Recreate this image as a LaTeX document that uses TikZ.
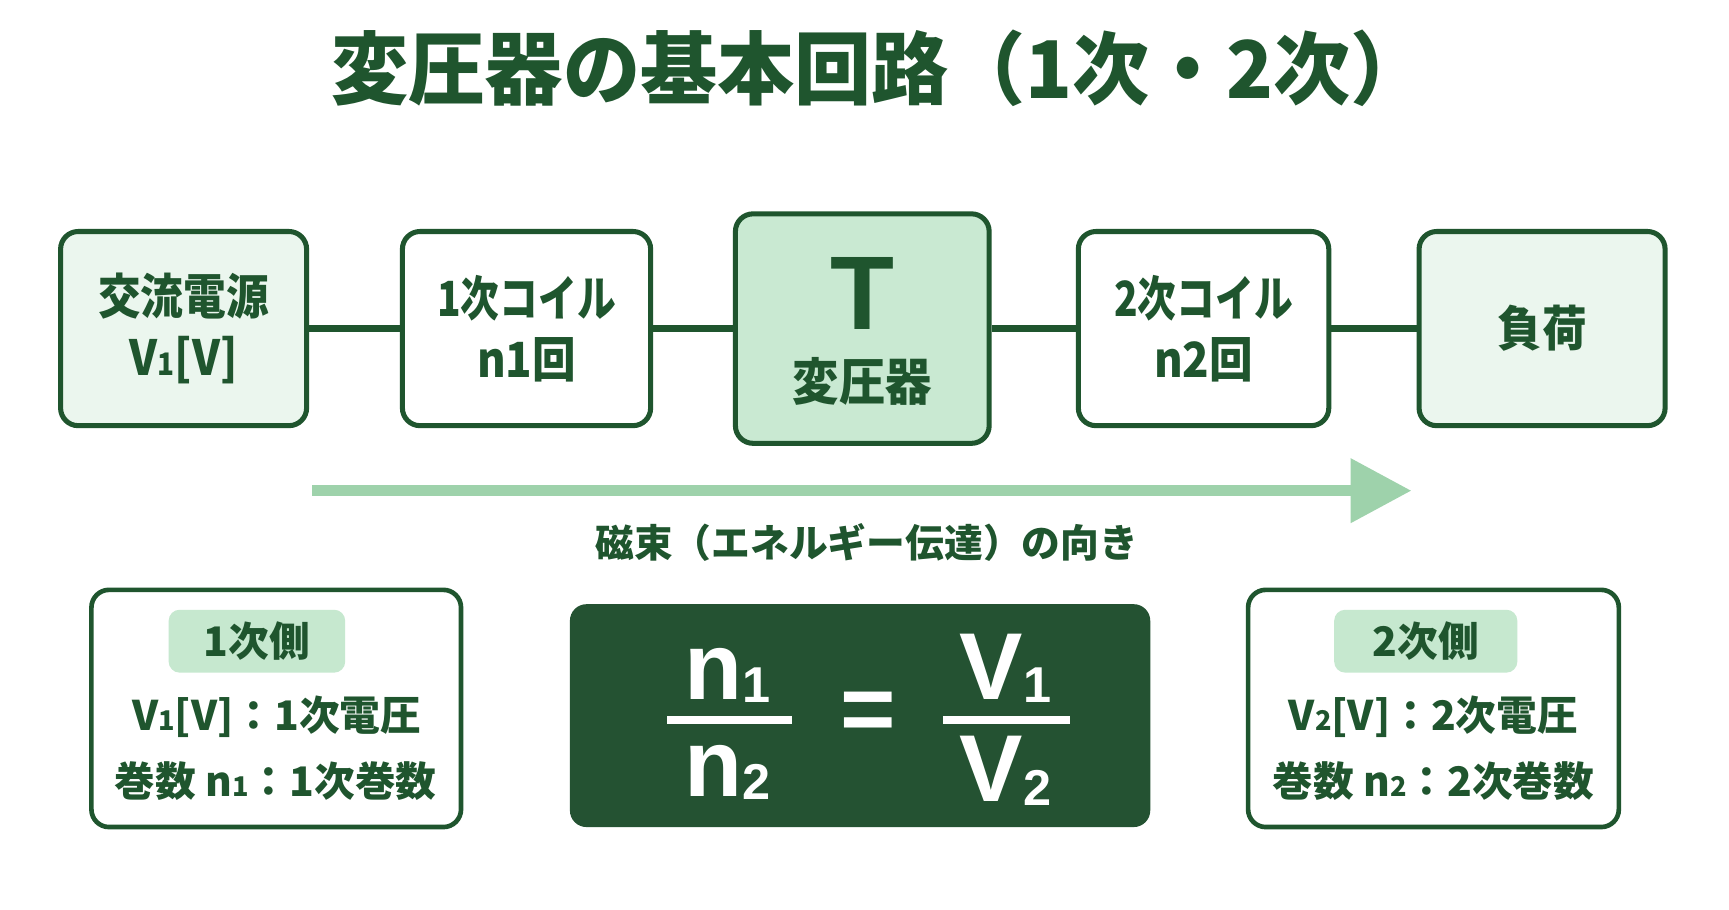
\documentclass[tikz,border=0pt]{standalone}
\usepackage{fontspec}
\setmainfont{Noto Sans CJK JP}
\newfontfamily\latinf{Liberation Sans}
\usetikzlibrary{arrows.meta}
\definecolor{dg}{HTML}{1F552E}
\definecolor{fmlbg}{HTML}{245232}
\definecolor{lite}{HTML}{EBF6EE}
\definecolor{midg}{HTML}{C9E9D2}
\definecolor{badgeg}{HTML}{C6E8CF}
\definecolor{arrg}{HTML}{9ED2AB}
\newcommand\mysub[1]{{\fontsize{8}{8}\selectfont #1}}
\newcommand\smsub[1]{{\fontsize{7}{7}\selectfont #1}}
\newcommand\fsub[1]{{\fontsize{13}{13}\selectfont\raisebox{-0.9pt}{#1}}}
\newcommand\cond[2]{\scalebox{#1}[1]{#2}}
\tikzset{
  blk/.style={draw=dg, line width=1.3pt, rounded corners=0.16cm, text=dg, align=center,
    font=\bfseries\fontsize{12.5}{15.6}\selectfont, minimum width=2.23cm, minimum height=1.76cm, inner sep=0pt},
  conn/.style={draw=dg, line width=1.9pt},
  infobox/.style={draw=dg, line width=1.2pt, rounded corners=0.16cm, fill=white, minimum height=2.15cm, inner sep=0pt},
  badge/.style={fill=badgeg, rounded corners=0.1cm, minimum height=0.57cm, inner sep=0pt, text=dg,
    font=\bfseries\fontsize{10.5}{12}\selectfont},
  itxt/.style={text=dg, font=\bfseries\fontsize{10.5}{12}\selectfont, inner sep=0pt},
  fml/.style={text=white, font=\latinf\bfseries\fontsize{24.5}{26}\selectfont, inner sep=0pt},
  fbar/.style={draw=white, line width=2pt},
}
\begin{document}
\begin{tikzpicture}[x=0.01cm, y=-0.01cm]
\useasboundingbox[fill=white] (0,0) rectangle (1568,825);

% title
\node[text=dg, font=\bfseries\fontsize{20.5}{24}\selectfont] (title) at (798,62) {\cond{0.97}{変圧器の基本回路（1次・2次）}};

% top chain
\node[blk, fill=lite] (src) at (166.5,298) {\cond{0.88}{交流電源}\\\cond{0.9}{V\mysub{1}[V]}};
\node[blk, fill=white, minimum width=2.25cm] (c1) at (477.5,298) {\cond{0.8}{1次コイル}\\\cond{0.9}{n1回}};
\node[blk, fill=midg, minimum width=2.30cm, minimum height=2.08cm] (tr) at (782,298) {};
\node[text=dg, font=\latinf\bfseries\fontsize{27}{27}\selectfont, inner sep=0pt] (trT) at (782,266) {T};
\node[text=dg, font=\bfseries\fontsize{13}{15}\selectfont, inner sep=0pt] (trL) at (782,346) {\cond{0.92}{変圧器}};
\node[blk, fill=white, minimum width=2.27cm] (c2) at (1091.5,298) {\cond{0.8}{2次コイル}\\\cond{0.9}{n2回}};
\node[blk, fill=lite] (load) at (1398.5,298) {\cond{0.92}{負荷}};

\draw[conn] (src.east) -- (c1.west);
\draw[conn] (c1.east) -- (tr.west);
\draw[conn] (tr.east) -- (c2.west);
\draw[conn] (c2.east) -- (load.west);

% flux arrow
\coordinate (aS) at (283,445);
\coordinate (aE) at (1280,445);
\draw[arrg, line width=0.1cm, -{Triangle[width=0.56cm, length=0.55cm]}] (aS) -- (aE);
\node[text=dg, font=\bfseries\fontsize{10}{12}\selectfont] (flux) at (786,492) {磁束（エネルギー伝達）の向き};

% left info
\node[infobox, minimum width=3.35cm] (lb) at (250.5,642.5) {};
\node[badge, minimum width=1.60cm] (lbadge) at (233,581.5) {1次側};
\node[itxt] (l1) at (251,650) {V\smsub{1}[V]：1次電圧};
\node[itxt] (l2) at (250,708) {巻数 n\smsub{1}：1次巻数};

% formula
\node[fill=fmlbg, rounded corners=0.15cm, minimum width=5.26cm, minimum height=2.02cm, inner sep=0pt] (fb) at (780,649) {};
\node[fml, anchor=base] (n1) at (660,634) {n\fsub{1}};
\node[fml, anchor=base] (n2) at (660,722) {n\fsub{2}};
\draw[fbar] (605,653) -- (718,653);
\node[fml] (eq) at (787,650) {=};
\node[fml, anchor=base] (v1) at (912,634) {V\fsub{1}};
\node[fml, anchor=base] (v2) at (912,727) {V\fsub{2}};
\draw[fbar] (855,653) -- (970,653);

% right info
\node[infobox, minimum width=3.36cm] (rb) at (1300,642.5) {};
\node[badge, minimum width=1.66cm] (rbadge) at (1293,581.5) {2次側};
\node[itxt] (r1) at (1300,650) {V\smsub{2}[V]：2次電圧};
\node[itxt] (r2) at (1300,708) {巻数 n\smsub{2}：2次巻数};
\end{tikzpicture}
\end{document}
